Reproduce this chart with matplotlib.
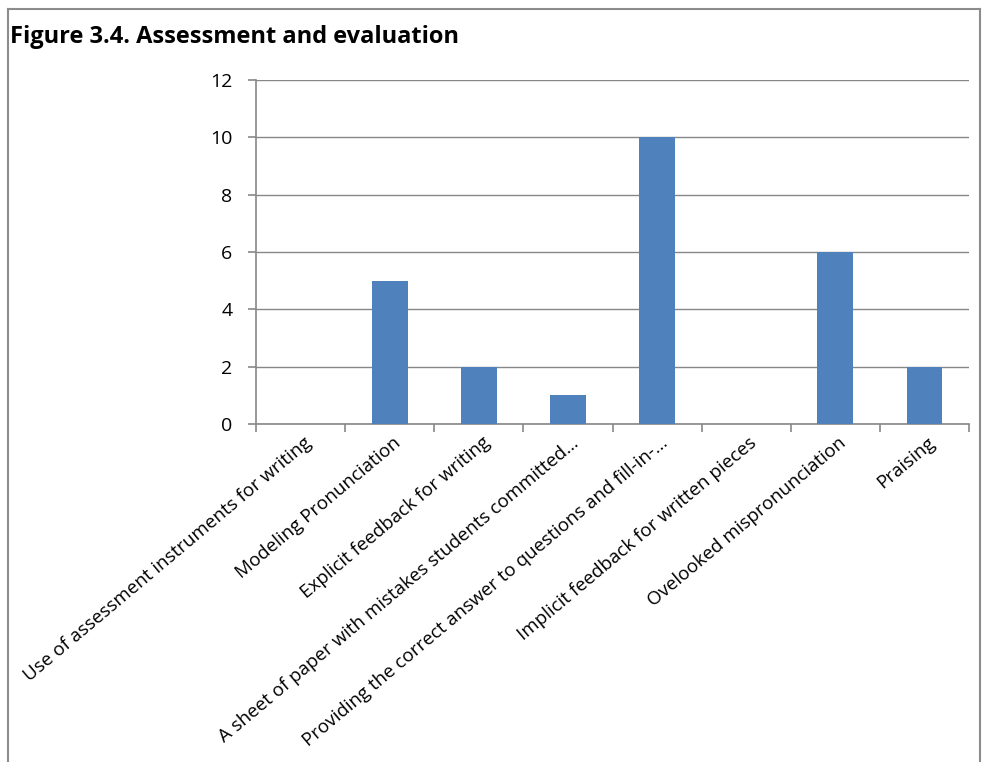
import matplotlib.pyplot as plt
import matplotlib.transforms as mtransforms
from matplotlib.lines import Line2D

# 평가 항목별 빈도
categories = [
    "Use of assessment instruments for writing",
    "Modeling Pronunciation",
    "Explicit feedback for writing",
    "A sheet of paper with mistakes students committed\u2026",
    "Providing the correct answer to questions and fill-in-\u2026",
    "Implicit feedback for written pieces",
    "Ovelooked mispronunciation",
    "Praising",
]
counts = [0, 5, 2, 1, 10, 0, 6, 2]
y_ticks = [0, 2, 4, 6, 8, 10, 12]

BAR_COLOR = "#4f81bd"
GRID_COLOR = "#878787"

plt.rcParams["font.family"] = ["Open Sans", "DejaVu Sans"]

fig = plt.figure(figsize=(9.82, 7.62), dpi=100)
ax = fig.add_axes([256 / 982, 1 - 424 / 762, (969 - 256) / 982, (424 - 80) / 762])

x = range(len(categories))
ax.bar(x, counts, width=0.4, color=BAR_COLOR, zorder=3)

ax.set_xlim(-0.5, len(categories) - 0.5)
ax.set_ylim(0, 12)
ax.set_yticks(y_ticks)
ax.yaxis.grid(True, color=GRID_COLOR, linewidth=1.0)
ax.set_axisbelow(True)

# x 눈금은 항목 경계에, 레이블은 항목 중앙에
ax.set_xticks([i - 0.5 for i in range(len(categories) + 1)])
ax.set_xticklabels([])
ax.set_xticks(list(x), minor=True)
ax.set_xticklabels(categories, minor=True, rotation=40, ha="right",
                   va="top", rotation_mode="anchor", fontsize=13.5)
ax.tick_params(axis="x", which="minor", length=0, pad=7)
ax.tick_params(axis="x", which="major", length=6, color=GRID_COLOR, width=1.2)
ax.tick_params(axis="y", length=6, color=GRID_COLOR, width=1.2, labelsize=14, pad=11)

# 레이블 끝을 항목 중앙보다 약간 오른쪽으로
shift = mtransforms.ScaledTranslation(2 / 72, 0, fig.dpi_scale_trans)
for lbl in ax.get_xticklabels(minor=True):
    lbl.set_transform(lbl.get_transform() + shift)

for side in ["top", "right"]:
    ax.spines[side].set_visible(False)
for side in ["left", "bottom"]:
    ax.spines[side].set_color(GRID_COLOR)
    ax.spines[side].set_linewidth(1.2)

fig.text(10 / 982, 1 - 43 / 762, "Figure 3.4. Assessment and evaluation",
         fontsize=17, fontweight="bold", va="baseline", ha="left")

# 차트 테두리
border = dict(color="#8c8c8c", linewidth=1.5, transform=fig.transFigure)
fig.add_artist(Line2D([8 / 982, 980 / 982], [1 - 9 / 762, 1 - 9 / 762], **border))
fig.add_artist(Line2D([8 / 982, 8 / 982], [0, 1 - 9 / 762], **border))
fig.add_artist(Line2D([980 / 982, 980 / 982], [0, 1 - 9 / 762], **border))

fig.savefig("out.png", dpi=100)
